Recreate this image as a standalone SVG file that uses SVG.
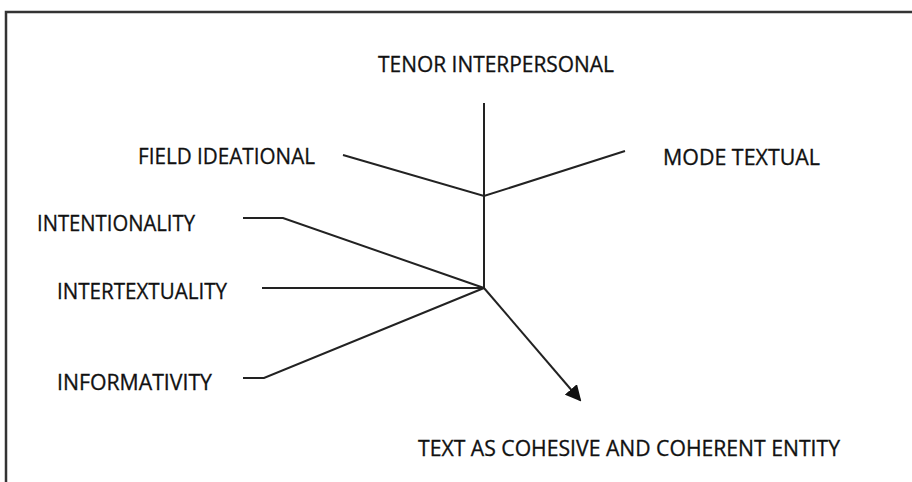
<svg xmlns="http://www.w3.org/2000/svg" width="912" height="482" viewBox="0 0 912 482">
<style>
text{font-family:"Open Sans","Liberation Sans",sans-serif;font-size:21px;fill:#111;stroke:#111;stroke-width:0.3}
.c{fill:none;stroke:#222;stroke-width:2;stroke-linejoin:miter}
</style>
<defs>
<marker id="ah" markerWidth="8" markerHeight="8" refX="7" refY="4" orient="auto" markerUnits="strokeWidth">
<path d="M0,0 L8,4 L0,8 Z" fill="#111"/>
</marker>
</defs>
<rect width="912" height="482" fill="#fff"/>
<path d="M6,482 L6,12 L912,12" fill="none" stroke="#333" stroke-width="2.5"/>
<g id="connectors">
<path class="c" d="M484,103 L484,288"/>
<path class="c" d="M343,155 L484,196 L625,151"/>
<path class="c" d="M243,218 L283,218 L484,288"/>
<path class="c" d="M262,288 L484,288"/>
<path class="c" d="M243,378 L264,378 L484,288"/>
<path class="c" d="M484,288 L580,400" marker-end="url(#ah)"/>
</g>
<g id="tenor"><text x="378" y="72" textLength="236" lengthAdjust="spacingAndGlyphs">TENOR INTERPERSONAL</text></g>
<g id="field"><text x="138" y="164" textLength="177" lengthAdjust="spacingAndGlyphs">FIELD IDEATIONAL</text></g>
<g id="mode"><text x="663" y="165" textLength="157" lengthAdjust="spacingAndGlyphs">MODE TEXTUAL</text></g>
<g id="intentionality"><text x="37" y="231" textLength="158" lengthAdjust="spacingAndGlyphs">INTENTIONALITY</text></g>
<g id="intertextuality"><text x="57" y="299" textLength="170" lengthAdjust="spacingAndGlyphs">INTERTEXTUALITY</text></g>
<g id="informativity"><text x="57" y="390" textLength="155" lengthAdjust="spacingAndGlyphs">INFORMATIVITY</text></g>
<g id="text-entity"><text x="418" y="456" textLength="422" lengthAdjust="spacingAndGlyphs">TEXT AS COHESIVE AND COHERENT ENTITY</text></g>
</svg>
